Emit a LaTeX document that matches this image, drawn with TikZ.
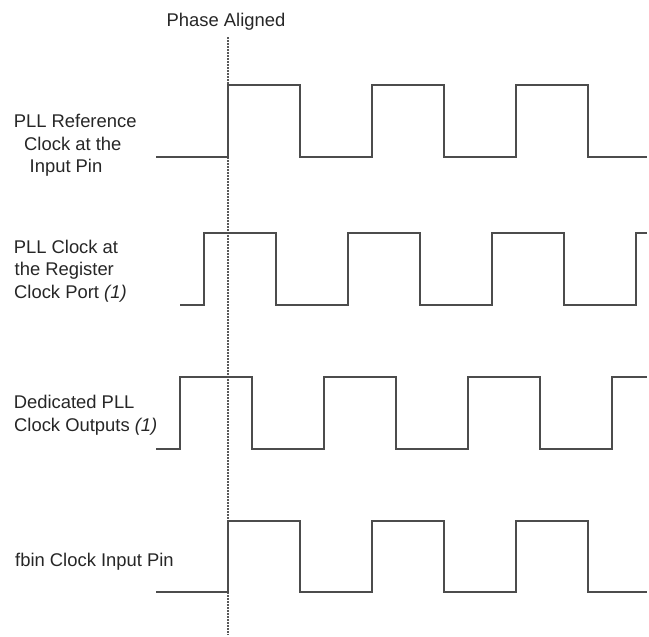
\documentclass[tikz,border=0pt]{standalone}
\usepackage{fontspec}
\setmainfont{Liberation Sans}
\begin{document}
\begin{tikzpicture}[x=1pt,y=-1pt,
  wave/.style={draw=black!70, line width=1.1pt, line join=miter},
  guide/.style={draw=black!65, line width=1.2pt, dash pattern=on 1.6pt off 1.4pt},
  lbl/.style={anchor=base west, inner sep=0pt, text=black!85, font=\fontsize{18.4}{22}\selectfont}]
\useasboundingbox (0,0) rectangle (649,637);
% title
\node[lbl] (title) at (166.5,26.7) {Phase Aligned};
% alignment guide
\coordinate (gtop) at (228,37);
\coordinate (gbot) at (228,635);
\draw[guide] (gtop) -- (gbot);
% labels
\node[lbl] (l1a) at (13.6,127) {PLL Reference};
\node[lbl] (l1b) at (24,150) {Clock at the};
\node[lbl] (l1c) at (29.5,172.3) {Input Pin};
\node[lbl] (l2a) at (13.6,253.3) {PLL Clock at};
\node[lbl] (l2b) at (14.5,275.7) {the Register};
\node[lbl] (l2c) at (14,298) {Clock Port \textit{(1)}};
\node[lbl] (l3a) at (13.6,408.3) {Dedicated PLL};
\node[lbl] (l3b) at (14,431) {Clock Outputs \textit{(1)}};
\node[lbl] (l4a) at (15,566.7) {fbin Clock Input Pin};
% waveform 1: PLL reference clock
\draw[wave] (156,157) -- (228,157) -- (228,85) -- (300,85) -- (300,157) -- (372,157) -- (372,85) -- (444,85) -- (444,157) -- (516,157) -- (516,85) -- (588,85) -- (588,157) -- (647,157);
% waveform 2: register clock port
\draw[wave] (180,305) -- (204,305) -- (204,233) -- (276,233) -- (276,305) -- (348,305) -- (348,233) -- (420,233) -- (420,305) -- (492,305) -- (492,233) -- (564,233) -- (564,305) -- (636,305) -- (636,233) -- (647,233);
% waveform 3: dedicated outputs
\draw[wave] (156,449) -- (180,449) -- (180,377) -- (252,377) -- (252,449) -- (324,449) -- (324,377) -- (396,377) -- (396,449) -- (468,449) -- (468,377) -- (540,377) -- (540,449) -- (612,449) -- (612,377) -- (647,377);
% waveform 4: fbin
\draw[wave] (156,592) -- (228,592) -- (228,521) -- (300,521) -- (300,592) -- (372,592) -- (372,521) -- (444,521) -- (444,592) -- (516,592) -- (516,521) -- (588,521) -- (588,592) -- (647,592);
\end{tikzpicture}
\end{document}
